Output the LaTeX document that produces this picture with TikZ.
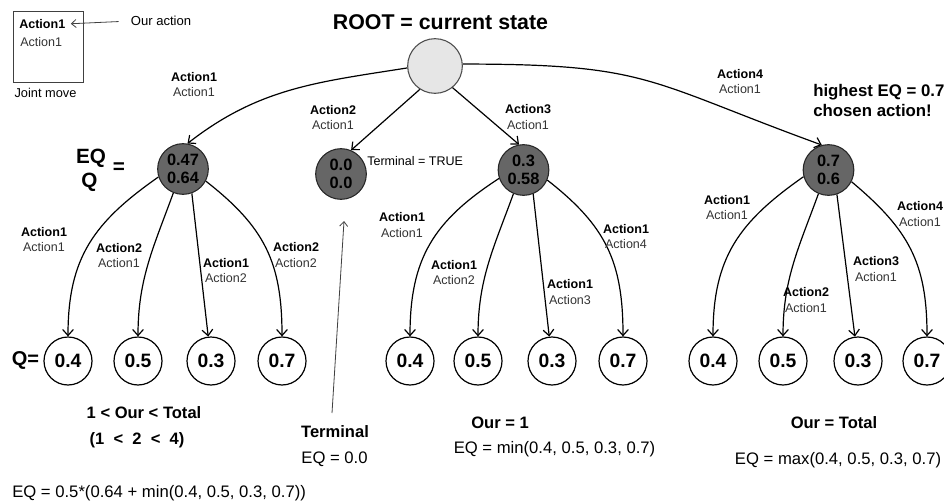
\documentclass[tikz,border=0pt]{standalone}
\usepackage{fontspec}
\setmainfont{Liberation Sans}
\usetikzlibrary{arrows.meta}
\definecolor{darknode}{HTML}{666666}
\definecolor{rootfill}{HTML}{E6E6E6}
\definecolor{subtxt}{HTML}{333333}
\newcommand{\twoact}[2]{\textbf{#1}\\{\color{subtxt}#2}}
\tikzset{
  edge/.style={draw, line width=0.9pt, -{Straight Barb[length=4.5pt,width=8pt]}},
  thinarrow/.style={draw=black!75, line width=0.6pt, -{Straight Barb[length=3.5pt,width=6pt]}},
  elab/.style={align=center, font=\fontsize{9.4}{11.3}\selectfont, inner sep=0pt},
  smalltxt/.style={font=\fontsize{9.4}{11.3}\selectfont, inner sep=0pt},
  midtxt/.style={font=\fontsize{12.5}{15}\selectfont, inner sep=0pt},
  midbold/.style={font=\fontsize{12.4}{15}\selectfont\bfseries, inner sep=0pt},
  bigbold/.style={font=\fontsize{15.5}{18}\selectfont\bfseries, inner sep=0pt},
  rootnode/.style={circle, draw=black!70, fill=rootfill, line width=0.8pt, minimum size=41pt, inner sep=0pt},
  qnode/.style={circle, draw=black!85, fill=darknode, line width=0.8pt, minimum size=38pt, inner sep=0pt, align=center, font=\fontsize{12.3}{14}\selectfont\bfseries},
  leaf/.style={circle, draw, line width=0.9pt, fill=white, minimum size=36pt, inner sep=0pt, font=\fontsize{14.5}{16}\selectfont\bfseries},
  legendbox/.style={draw=black!75, line width=0.75pt, minimum width=52.5pt, minimum height=53pt, inner sep=0pt},
}
\begin{document}
\begin{tikzpicture}[x=0.75pt,y=-0.75pt]
\useasboundingbox (0,0) rectangle (944,502);

% legend
\node[legendbox] (legbox) at (48,47) {};
\node[smalltxt, anchor=west, font=\fontsize{9.4}{11.3}\selectfont\bfseries] (legtop) at (19,24) {Action1};
\node[smalltxt, anchor=west, text=subtxt] (legsub) at (20,42) {Action1};
\node[smalltxt, font=\fontsize{9.6}{11.3}\selectfont] (joint) at (45.5,93) {Joint move};
\node[smalltxt, font=\fontsize{9.8}{11.3}\selectfont] (ouract) at (161,21) {Our action};
\draw[thinarrow, shorten <=9pt, shorten >=4pt] (ouract.west) -- (legtop.east);

% title
\node[font=\fontsize{16}{19}\selectfont\bfseries, inner sep=0pt] (title) at (440.5,22) {ROOT = current state};

% root and first level
\node[rootnode] (root) at (435,66) {};
\node[qnode] (A) at (183,169) {0.47\\0.64};
\node[qnode] (B) at (341,174) {0.0\\0.0};
\node[qnode] (C) at (523.5,170) {0.3\\0.58};
\node[qnode] (D) at (828.5,170) {0.7\\0.6};

\draw[edge] (root.184) to[out=189,in=38] (A.80);
\draw[edge] (root.237) -- (B.67);
\draw[edge] (root.309) -- (C.100);
\draw[edge] (root.4) to[out=0,in=160,looseness=1.3] (D.105);

\node[elab] (lrA) at (194,84.5) {\twoact{Action1}{Action1}};
\node[elab] (lrB) at (333,117.5) {\twoact{Action2}{Action1}};
\node[elab] (lrC) at (528,117) {\twoact{Action3}{Action1}};
\node[elab] (lrD) at (740,81.5) {\twoact{Action4}{Action1}};

\node[smalltxt, anchor=west] (termtrue) at (367,161) {Terminal = TRUE};
\node[font=\fontsize{12.6}{14.3}\selectfont\bfseries, inner sep=0pt, anchor=west, align=left] (highest) at (813,100.5) {highest EQ = 0.7\\chosen action!};

% EQ / Q legend
\node[bigbold] (eqlbl) at (91,158) {EQ};
\node[bigbold] (qlbl) at (89.5,182) {Q};
\node[bigbold] (eqsign) at (119,168) {=};
\node[bigbold, font=\fontsize{15}{18}\selectfont\bfseries] (qeq) at (25.5,360) {Q=};

% leaves
\foreach \n/\x/\v in {a1/68/0.4, a2/138/0.5, a3/211/0.3, a4/282/0.7,
                      c1/410/0.4, c2/478/0.5, c3/552/0.3, c4/623/0.7,
                      d1/713/0.4, d2/783/0.5, d3/858/0.3, d4/927/0.7}
  \node[leaf] (\n) at (\x,361) {\v};

% subtree A
\draw[edge] (A.198) to[out=215,in=90,looseness=1.1] (a1);
\draw[edge] (A.248) to[out=250,in=90] (a2);
\draw[edge] (A.290) -- (a3);
\draw[edge] (A.332) to[out=-38,in=90,looseness=1.1] (a4);
\node[elab] (la1) at (44,239.5) {\twoact{Action1}{Action1}};
\node[elab] (la2) at (119,255.5) {\twoact{Action2}{Action1}};
\node[elab] (la3) at (226,270.5) {\twoact{Action1}{Action2}};
\node[elab] (la4) at (296,255) {\twoact{Action2}{Action2}};

% subtree C
\draw[edge] (C.199) to[out=213,in=90,looseness=1.1] (c1);
\draw[edge] (C.247) to[out=250,in=90] (c2);
\draw[edge] (C.292) -- (c3);
\draw[edge] (C.337) to[out=-38,in=90,looseness=1.1] (c4);
\node[elab] (lc1) at (402,225) {\twoact{Action1}{Action1}};
\node[elab] (lc2) at (454,272.5) {\twoact{Action1}{Action2}};
\node[elab] (lc3) at (570,292) {\twoact{Action1}{Action3}};
\node[elab] (lc4) at (626,236.5) {\twoact{Action1}{Action4}};

% subtree D
\draw[edge] (D.195) to[out=215,in=90,looseness=1.1] (d1);
\draw[edge] (D.247) to[out=250,in=90] (d2);
\draw[edge] (D.289) -- (d3);
\draw[edge] (D.333) to[out=-40,in=90,looseness=1.1] (d4);
\node[elab] (ld1) at (727,207.5) {\twoact{Action1}{Action1}};
\node[elab] (ld2) at (806,300) {\twoact{Action2}{Action1}};
\node[elab] (ld3) at (876,269) {\twoact{Action3}{Action1}};
\node[elab] (ld4) at (920,214) {\twoact{Action4}{Action1}};

% terminal pointer
\coordinate (termtail) at (332,413);
\coordinate (termhead) at (344,221);
\draw[thinarrow] (termtail) -- (termhead);

% bottom texts
\node[midbold] (cond1) at (144,413) {1 < Our < Total};
\node[midbold] (cond2) at (137,440) {(1~~<~~2~~<~~4)};
\node[midbold] (termlbl) at (335,432) {Terminal};
\node[midtxt] (termeq) at (334.5,459) {EQ = 0.0};
\node[midbold] (our1) at (500,423) {Our = 1};
\node[midtxt] (mineq) at (554.5,449) {EQ = min(0.4, 0.5, 0.3, 0.7)};
\node[midbold] (ourtot) at (834,423) {Our = Total};
\node[midtxt] (maxeq) at (838,460) {EQ = max(0.4, 0.5, 0.3, 0.7)};
\node[midtxt, anchor=west] (mixeq) at (12,493) {EQ = 0.5*(0.64 + min(0.4, 0.5, 0.3, 0.7))};
\end{tikzpicture}
\end{document}
